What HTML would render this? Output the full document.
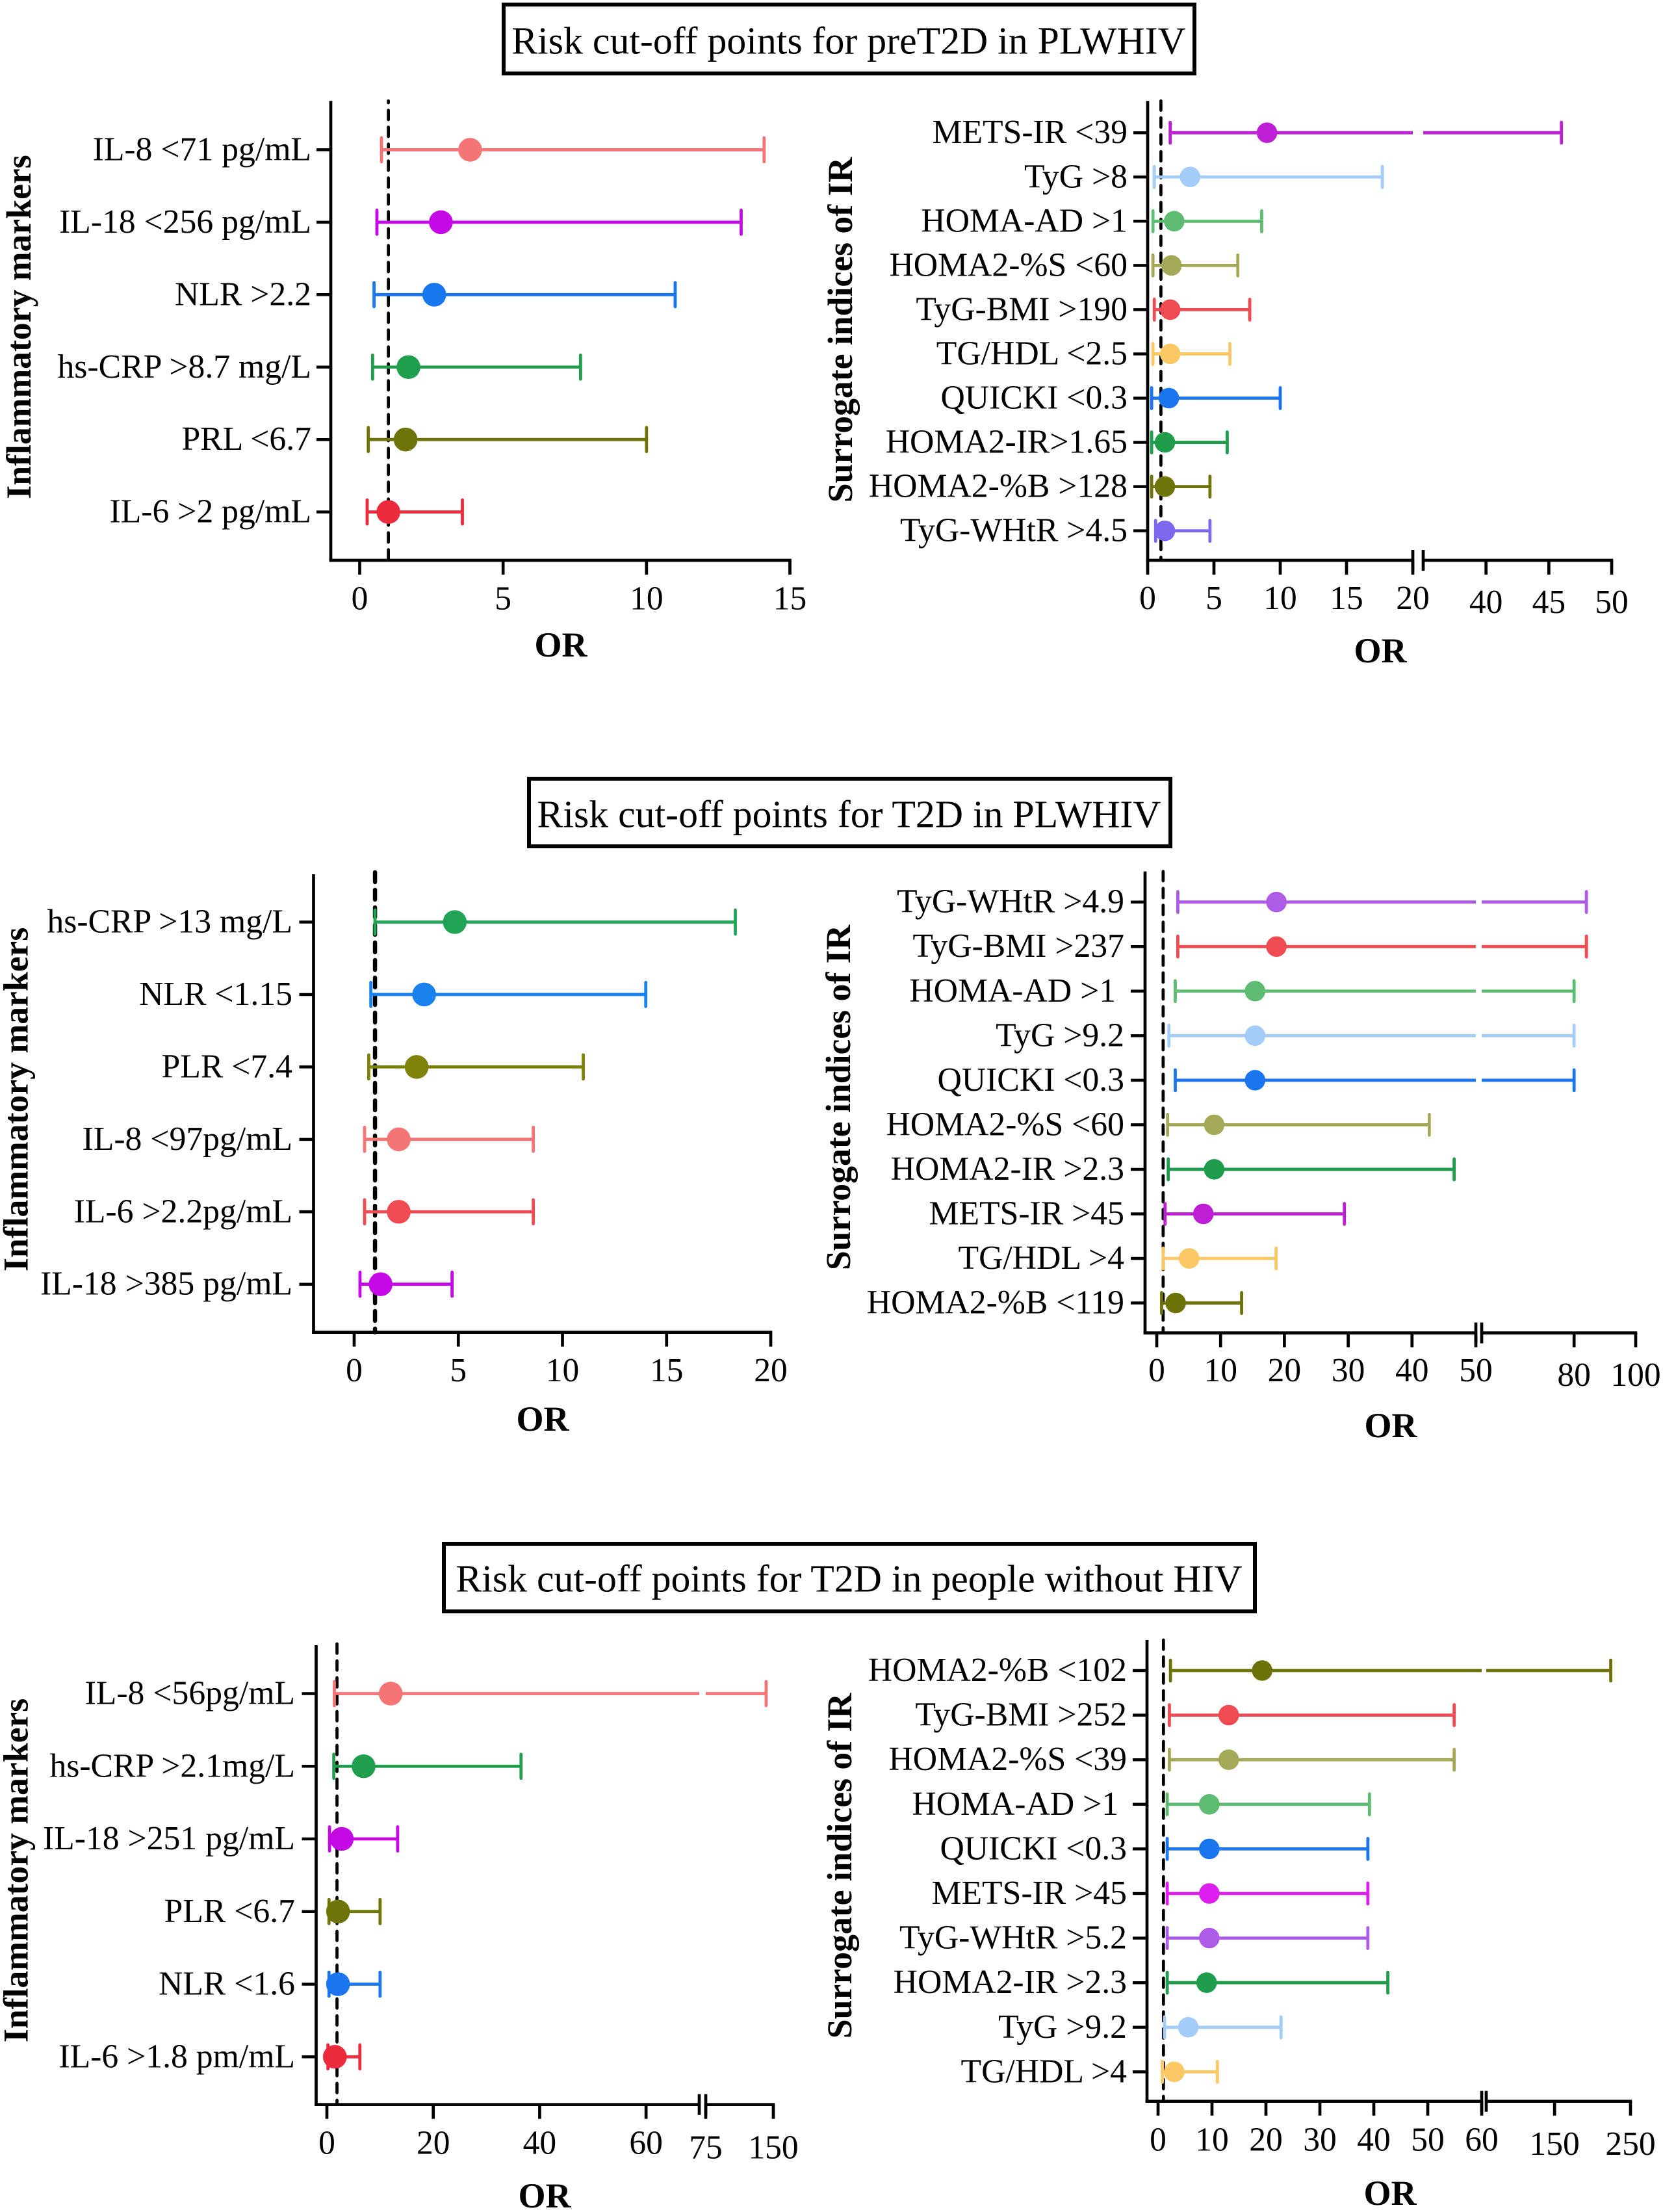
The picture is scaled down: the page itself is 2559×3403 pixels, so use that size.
<!DOCTYPE html>
<html lang="en">
<head>
<meta charset="utf-8">
<title>Risk cut-off points forest plots</title>
<style>
html,body{margin:0;padding:0;background:#fff;}
svg{display:block;font-family:"Liberation Serif","Times New Roman",serif;}
.title-text{font-size:59.8px;text-anchor:middle;fill:#000;}
.title-box{fill:#fff;stroke:#000;stroke-width:6;}
</style>
</head>
<body>
<svg id="chart" xmlns="http://www.w3.org/2000/svg" width="2559" height="3403" viewBox="0 0 2559 3403">
  <rect x="0" y="0" width="2559" height="3403" fill="#ffffff"/>
  <g>
    <rect class="title-box" x="775" y="7" width="1063" height="106"/>
    <text class="title-text" x="1306" y="82.5">Risk cut-off points for preT2D in PLWHIV</text>
  </g>
  <g>
    <rect class="title-box" x="814" y="1198" width="987" height="104"/>
    <text class="title-text" x="1306.5" y="1272.5">Risk cut-off points for T2D in PLWHIV</text>
  </g>
  <g>
    <rect class="title-box" x="683" y="2375" width="1248" height="104"/>
    <text class="title-text" x="1306.5" y="2448.5">Risk cut-off points for T2D in people without HIV</text>
  </g>
</svg>
<script>
// ---- Panel A left: preT2D in PLWHIV, inflammatory markers ----
const aLeftLabels = ["IL-8 <71 pg/mL","IL-18 <256 pg/mL","NLR >2.2","hs-CRP >8.7 mg/L","PRL <6.7","IL-6 >2 pg/mL"];
const aLeftOr = [3.85,2.83,2.6,1.7,1.6,1.0];
const aLeftLow = [0.76,0.6,0.5,0.45,0.3,0.26];
const aLeftHigh = [14.1,13.3,11,7.7,10,3.58];
const aLeftTicks = [0,5,10,15];
const aLeftTickLabels = ["0","5","10","15"];
const aLeftColors = ["#F57577","#C408E6","#1877EE","#1F9E4D","#6F7408","#EC2C3C"];

// ---- Panel A right: preT2D in PLWHIV, surrogate indices ----
const aRightLabels = ["METS-IR <39","TyG >8","HOMA-AD >1","HOMA2-%S <60","TyG-BMI >190","TG/HDL <2.5","QUICKI <0.3","HOMA2-IR>1.65","HOMA2-%B >128","TyG-WHtR >4.5"];
const aRightOr = [9.0,3.2,2.0,1.8,1.7,1.7,1.6,1.3,1.3,1.3];
const aRightLow = [1.7,0.5,0.4,0.4,0.5,0.4,0.3,0.3,0.3,0.6];
const aRightHigh = [46,17.7,8.6,6.8,7.7,6.2,10,6.0,4.7,4.7];
const aRightTicks = [0,5,10,15,20,40,45,50];
const aRightTickLabels = ["0","5","10","15","20","40","45","50"];
const aRightColors = ["#BE1FD4","#A3CDF8","#5DBB72","#A3A956","#F04A52","#FCC765","#1A75EE","#1F9C4C","#6F7408","#7B68EE"];

// ---- Panel B left: T2D in PLWHIV, inflammatory markers ----
const bLeftLabels = ["hs-CRP >13 mg/L","NLR <1.15","PLR <7.4","IL-8 <97pg/mL","IL-6 >2.2pg/mL","IL-18 >385 pg/mL"];
const bLeftOr = [4.83,3.36,3.0,2.14,2.14,1.27];
const bLeftLow = [1.0,0.8,0.7,0.5,0.5,0.28];
const bLeftHigh = [18.3,14,11,8.6,8.6,4.7];
const bLeftTicks = [0,5,10,15,20];
const bLeftTickLabels = ["0","5","10","15","20"];
const bLeftColors = ["#22A457","#1A82EE","#7F8208","#F57577","#F04A52","#C408E6"];

// ---- Panel B right: T2D in PLWHIV, surrogate indices ----
const bRightLabels = ["TyG-WHtR >4.9","TyG-BMI >237","HOMA-AD >1\u00A0","TyG >9.2","QUICKI <0.3","HOMA2-%S <60","HOMA2-IR >2.3","METS-IR >45","TG/HDL >4","HOMA2-%B <119"];
const bRightOr = [18.75,18.75,15.4,15.4,15.4,9.0,9.0,7.3,5.07,2.96];
const bRightLow = [3.3,3.3,2.9,1.9,2.9,1.7,1.8,1.3,1.0,0.76];
const bRightHigh = [84,84,80,80,80,42.7,46.6,29.4,18.7,13.3];
const bRightTicks = [0,10,20,30,40,50,80,100];
const bRightTickLabels = ["0","10","20","30","40","50","80","100"];
const bRightColors = ["#AE5CE8","#F04A52","#5DBB72","#A3CDF8","#1A75EE","#A3A956","#1F9C4C","#BE1FD4","#FCC765","#6C7208"];

// ---- Panel C left: T2D without HIV, inflammatory markers ----
const cLeftLabels = ["IL-8 <56pg/mL","hs-CRP >2.1mg/L","IL-18 >251 pg/mL","PLR <6.7","NLR <1.6","IL-6 >1.8 pm/mL"];
const cLeftOr = [12,6.9,2.8,2.1,2.1,1.5];
const cLeftLow = [1.4,1.3,0.5,0.4,0.4,0.2];
const cLeftHigh = [142,36.5,13.3,10,10,6.2];
const cLeftTicks = [0,20,40,60,75,150];
const cLeftTickLabels = ["0","20","40","60","75","150"];
const cLeftColors = ["#F57577","#1F9E4D","#C408E6","#6F7408","#1A75EE","#EC2C3C"];

// ---- Panel C right: T2D without HIV, surrogate indices ----
const cRightLabels = ["HOMA2-%B <102","TyG-BMI >252","HOMA2-%S <39","HOMA-AD >1\u00A0","QUICKI <0.3","METS-IR >45","TyG-WHtR >5.2","HOMA2-IR >2.3","TyG >9.2","TG/HDL >4"];
const cRightOr = [19.3,13.1,13.1,9.5,9.5,9.5,9.5,9.0,5.6,3.0];
const cRightLow = [2.3,2.1,2.1,1.7,1.7,1.7,1.7,1.7,1.2,0.8];
const cRightHigh = [224,54.9,54.9,39.2,38.9,38.9,38.9,42.6,22.8,11];
const cRightTicks = [0,10,20,30,40,50,60,150,250];
const cRightTickLabels = ["0","10","20","30","40","50","60","150","250"];
const cRightColors = ["#6C7208","#F04A52","#A3A956","#5DBB72","#1A75EE","#DC1EEE","#AE5CE8","#1F9C4C","#A3CDF8","#FCC765"];

const SVG_NS = "http://www.w3.org/2000/svg";
const svg = document.getElementById("chart");

function make(tag, attrs, parent) {
  const el = document.createElementNS(SVG_NS, tag);
  for (const k in attrs) el.setAttribute(k, attrs[k]);
  parent.appendChild(el);
  return el;
}
function slugify(s) {
  return s.toLowerCase().replace(/%/g, "pct").replace(/[^a-z0-9]+/g, "-").replace(/^-|-$/g, "");
}
// Piecewise-linear x axis: one or two linear segments with a break between them.
function makeScale(segments) {
  return function (v) {
    let seg = segments[0];
    if (segments.length > 1 && v > segments[0].d1) {
      seg = segments[1];
      if (v < seg.d0) return segments[0].r1;
    }
    return seg.r0 + (v - seg.d0) * (seg.r1 - seg.r0) / (seg.d1 - seg.d0);
  };
}
function rowCenter(layout, i) {
  return layout.rowTop + i * layout.rowStep;
}

function drawPanel(name, labels, ors, lows, highs, ticks, tickLabels, colors, L) {
  const x = makeScale(L.segments);
  const group = make("g", {}, svg);
  
  

  // y axis line
  const yAxis = make("line", {x1: L.axisX, x2: L.axisX, y1: L.top, y2: L.bottom + 2.3, stroke: "#000", "stroke-width": 4.7}, group);
  
  

  // x axis line(s)
  const broken = L.segments.length > 1;
  const end = L.segments[L.segments.length - 1].r1;
  const xAxisEnd1 = broken ? L.segments[0].r1 : end;
  const xAxis = make("line", {x1: L.axisX - 2.3, x2: xAxisEnd1 + (broken ? 0 : 2.3), y1: L.bottom, y2: L.bottom, stroke: "#000", "stroke-width": 4.7}, group);
  
  
  if (broken) {
    const xAxis2 = make("line", {x1: L.segments[1].r0, x2: end + 2.3, y1: L.bottom, y2: L.bottom, stroke: "#000", "stroke-width": 4.7}, group);
    
    
    [L.segments[0].r1, L.segments[1].r0].forEach(function (bx) {
      const bar = make("line", {x1: bx, x2: bx, y1: L.bottom - 16, y2: L.bottom + 16, stroke: "#000", "stroke-width": 4.7}, group);
      
      
    });
  }

  // x ticks + labels
  ticks.forEach(function (t, i) {
    const tx = x(t);
    const upper = broken && t > L.segments[0].d1;
    const tick = make("line", {x1: tx, x2: tx, y1: L.bottom, y2: L.bottom + 22, stroke: "#000", "stroke-width": 4.7}, group);
    
    
    const lab = make("text", {x: tx, y: upper ? L.tickBase2 : L.tickBase, "text-anchor": "middle", "font-size": 51.5, fill: "#000"}, group);
    lab.textContent = tickLabels[i];
    
    
  });

  // axis titles
  const xTitle = make("text", {x: L.orX, y: L.orY, "text-anchor": "middle", "font-size": 54, "font-weight": "bold", fill: "#000"}, group);
  xTitle.textContent = "OR";
  
  
  const yTitle = make("text", {transform: "translate(" + L.titleX + "," + L.titleY + ") rotate(-90)", "text-anchor": "middle", "font-size": 53.7, "font-weight": "bold", fill: "#000"}, group);
  yTitle.textContent = L.yTitle;
  
  

  // reference line
  const refX = x(L.refValue);
  const ref = make("line", {x1: refX, x2: refX, y1: L.refTop, y2: L.bottom, stroke: "#000", "stroke-width": L.refWidth, "stroke-dasharray": L.refDash, "stroke-dashoffset": L.refOffset, "stroke-linecap": "round"}, group);
  
  

  // rows
  labels.forEach(function (label, i) {
    const slug = slugify(label);
    const cy = rowCenter(L, i);
    const color = colors[i];
    const row = make("g", {}, group);
    
    

    const yt = make("line", {x1: L.axisX - 22, x2: L.axisX, y1: cy, y2: cy, stroke: "#000", "stroke-width": 4.5}, row);
    
    

    const yl = make("text", {x: L.labelX, y: cy + 16, "text-anchor": "end", "font-size": 51.7, fill: "#000"}, row);
    yl.textContent = label;
    
    

    const xl = x(lows[i]), xh = x(highs[i]), xp = x(ors[i]);
    const crossesBreak = broken && highs[i] > L.segments[0].d1;
    const ci = make("line", {x1: xl, x2: crossesBreak ? L.segments[0].r1 : xh, y1: cy, y2: cy, stroke: color, "stroke-width": 4.8}, row);
    
    
    if (crossesBreak) {
      const ci2 = make("line", {x1: L.segments[1].r0, x2: xh, y1: cy, y2: cy, stroke: color, "stroke-width": 4.8}, row);
      
      
    }
    const capLow = make("line", {x1: xl, x2: xl, y1: cy - L.cap, y2: cy + L.cap, stroke: color, "stroke-width": 4.8, "stroke-linecap": "round"}, row);
    
    
    const capHigh = make("line", {x1: xh, x2: xh, y1: cy - L.cap, y2: cy + L.cap, stroke: color, "stroke-width": 4.8, "stroke-linecap": "round"}, row);
    
    
    const dot = make("ellipse", {cx: xp, cy: cy, rx: L.radius, ry: L.radius, fill: color}, row);
    
    
  });
}

drawPanel("panel-pret2d-inflammatory", aLeftLabels, aLeftOr, aLeftLow, aLeftHigh, aLeftTicks, aLeftTickLabels, aLeftColors, {
  axisX: 509, top: 155.2, bottom: 862, rowTop: 230.4, rowStep: 111.45, labelX: 479,
  segments: [{d0: 0, d1: 15, r0: 553.5, r1: 1215.5}],
  tickBase: 937.3, tickBase2: 937.3, orX: 863, orY: 1010, titleX: 47, titleY: 503, yTitle: "Inflammatory markers",
  refValue: 1, refTop: 155.2, refWidth: 4.7, refDash: "14.5 11.5", refOffset: 11.6, cap: 18.5, radius: 18.3
});
drawPanel("panel-pret2d-surrogate", aRightLabels, aRightOr, aRightLow, aRightHigh, aRightTicks, aRightTickLabels, aRightColors, {
  axisX: 1766, top: 155.2, bottom: 862, rowTop: 204.2, rowStep: 68.05, labelX: 1735,
  segments: [{d0: 0, d1: 20, r0: 1766, r1: 2174}, {d0: 35, d1: 50, r0: 2190, r1: 2480}],
  tickBase: 936.8, tickBase2: 943.2, orX: 2124, orY: 1019, titleX: 1311, titleY: 507.5, yTitle: "Surrogate indices of IR",
  refValue: 1, refTop: 155.2, refWidth: 4.7, refDash: "14.5 11.5", refOffset: 0, cap: 16, radius: 15.8
});
drawPanel("panel-t2d-plwhiv-inflammatory", bLeftLabels, bLeftOr, bLeftLow, bLeftHigh, bLeftTicks, bLeftTickLabels, bLeftColors, {
  axisX: 482.5, top: 1345, bottom: 2049.6, rowTop: 1418.5, rowStep: 111.44, labelX: 450,
  segments: [{d0: 0, d1: 20, r0: 545, r1: 1186}],
  tickBase: 2125.2, tickBase2: 2125.2, orX: 835, orY: 2200.8, titleX: 42.5, titleY: 1691.4, yTitle: "Inflammatory markers",
  refValue: 1, refTop: 1342, refWidth: 6.5, refDash: "15 12", refOffset: 0, cap: 18.5, radius: 18.3
});
drawPanel("panel-t2d-plwhiv-surrogate", bRightLabels, bRightOr, bRightLow, bRightHigh, bRightTicks, bRightTickLabels, bRightColors, {
  axisX: 1762, top: 1340.6, bottom: 2050.6, rowTop: 1387.7, rowStep: 68.54, labelX: 1730,
  segments: [{d0: 0, d1: 50, r0: 1780, r1: 2271}, {d0: 50.01, d1: 100, r0: 2280, r1: 2517}],
  tickBase: 2125.2, tickBase2: 2132.2, orX: 2140, orY: 2210.8, titleX: 1308, titleY: 1688.4, yTitle: "Surrogate indices of IR",
  refValue: 1, refTop: 1340.6, refWidth: 4.7, refDash: "14.5 11.5", refOffset: 0, cap: 16, radius: 15.8
});
drawPanel("panel-t2d-no-hiv-inflammatory", cLeftLabels, cLeftOr, cLeftLow, cLeftHigh, cLeftTicks, cLeftTickLabels, cLeftColors, {
  axisX: 486.5, top: 2531, bottom: 3237.7, rowTop: 2605.5, rowStep: 111.75, labelX: 454,
  segments: [{d0: 0, d1: 70, r0: 503, r1: 1076}, {d0: 75, d1: 150, r0: 1086, r1: 1190}],
  tickBase: 3313.3, tickBase2: 3320.3, orX: 838, orY: 3396, titleX: 42.5, titleY: 2877.5, yTitle: "Inflammatory markers",
  refValue: 1.9, refTop: 2529, refWidth: 4.7, refDash: "14.5 11.5", refOffset: 0, cap: 18.5, radius: 18.3
});
drawPanel("panel-t2d-no-hiv-surrogate", cRightLabels, cRightOr, cRightLow, cRightHigh, cRightTicks, cRightTickLabels, cRightColors, {
  axisX: 1765, top: 2523, bottom: 3232.7, rowTop: 2570, rowStep: 68.6, labelX: 1734,
  segments: [{d0: 0, d1: 60, r0: 1782, r1: 2280}, {d0: 60.01, d1: 250, r0: 2287, r1: 2509}],
  tickBase: 3308.4, tickBase2: 3315, orX: 2139, orY: 3392, titleX: 1310, titleY: 2870.5, yTitle: "Surrogate indices of IR",
  refValue: 1, refTop: 2523, refWidth: 4.7, refDash: "14.5 11.5", refOffset: 0, cap: 16, radius: 15.8
});
</script>
</body>
</html>
